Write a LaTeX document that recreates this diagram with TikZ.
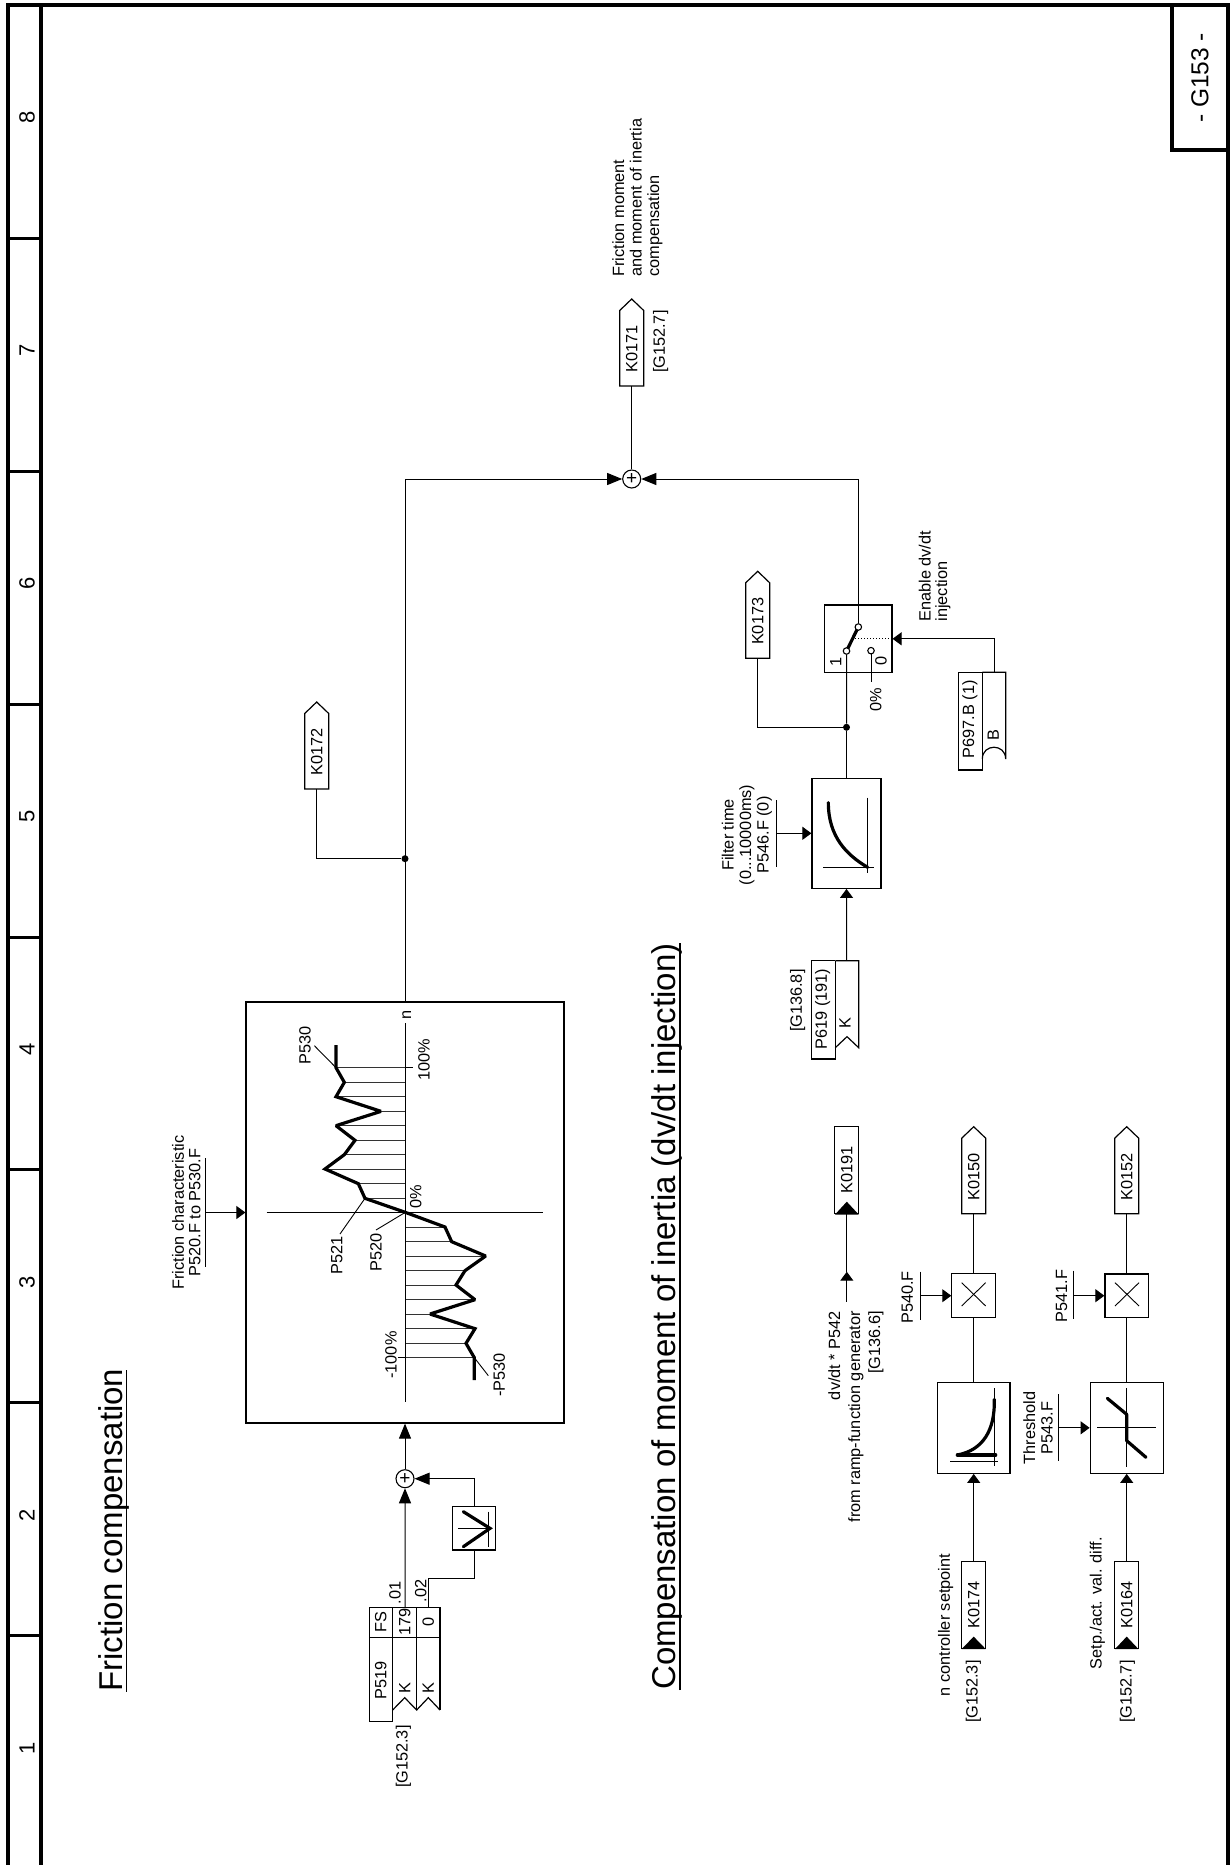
\documentclass[tikz,border=0pt]{standalone}
\usepackage{fontspec}
\setmainfont{Liberation Sans}
\usetikzlibrary{arrows.meta}
\tikzset{
  z/.style 2 args={shift={(#1,#2)},x=0.33333pt,y=-0.33333pt},
  lab/.style={rotate=90,inner sep=0pt,font=\fontsize{16.3}{17.5}\selectfont},
  bx/.style={draw,line width=1.2pt,inner sep=0pt,fill=white},
  conn/.style={line width=1pt},
  big/.style={conn,-{Triangle[length=15pt,width=12pt]}},
  sm/.style={conn,-{Triangle[length=9pt,width=13pt]}},
  tbl/.style={line width=1.2pt,line join=miter},
  thin/.style={line width=.9pt},
  thick3/.style={line width=3.2pt,line cap=round,line join=round},
  hatch/.style={line width=.9pt,black!80},
  frame/.style={line width=4.2pt},
  dotnode/.style={circle,fill=black,inner sep=0pt,minimum size=7pt},
  contact/.style={circle,draw,fill=white,line width=1.1pt,inner sep=0pt,minimum size=6.5pt},
  sumnode/.style={circle,draw,fill=white,line width=1.1pt,inner sep=0pt,minimum size=18pt,font=\fontsize{19}{19}\selectfont},
  ktag/.style={draw,line width=1.2pt,rotate=90,inner sep=0pt,minimum width=87pt,minimum height=24pt,font=\fontsize{16.3}{17.5}\selectfont},
}
\newcommand{\sigtag}[4]{%
  \draw[tbl] (#2-12,#3) -- (#2-12,#3-75.5) -- (#2,#3-87) -- (#2+12,#3-75.5) -- (#2+12,#3) -- cycle;
  \coordinate (#1) at (#2,#3);
  \node[lab] (#1t) at (#2,#3-37) {#4};}
\begin{document}
\begin{tikzpicture}[x=1pt,y=-1pt]
\useasboundingbox (0,0) rectangle (1231,1865);
% frame
\draw[frame] (8,1865) -- (8,5) -- (1228,5) -- (1228,1865);
\draw[frame] (41,1865) -- (41,5);
\draw[frame] (1172,5) -- (1172,150) -- (1228,150);
\foreach \yy in {238,471,704,937,1169,1402,1635} \draw[line width=3pt] (8,\yy) -- (41,\yy);
\foreach \yy/\nn in {1748/1,1515/2,1282/3,1049/4,816/5,583/6,350/7,117/8}
  \node[rotate=90,inner sep=0pt,font=\fontsize{22}{24}\selectfont] (col\nn) at (27,\yy) {\nn};
\node[rotate=90,inner sep=0pt,font=\fontsize{24.5}{26}\selectfont] (sheet) at (1200,78) {- G153 -};
% titles
\node[rotate=90,inner sep=0pt,anchor=base west,font=\fontsize{33}{34}\selectfont] (title1) at (122.7,1691.7) {Friction compensation};
\draw[line width=1.5pt] (126.7,1691.7) -- (126.7,1370);
\node[rotate=90,inner sep=0pt,anchor=base west,font=\fontsize{33}{34}\selectfont] (title2) at (675.7,1690) {Compensation of moment of inertia (dv/dt injection)};
\draw[line width=1.5pt] (680,1690) -- (680,943);

% friction box
\node[bx,minimum width=318pt,minimum height=421pt] (mainbox) at (405,1212.5) {};
\begin{scope}[z={230}{980}]
  \foreach \yy/\xx in {263/318,307/343,350/318,394/453,437/318,481/375,524/343,567/285,611/385,655/405,
                        741/645,785/665,828/767,872/705,915/678,959/735,1002/600,1046/735,1090/708,1133/733}
    \draw[hatch] (526,\yy) -- (\xx,\yy);
  \draw[thin] (526,1265) -- (526,130);
  \draw[thin] (110,697) -- (940,697);
  \draw[thin] (526,263) -- (548,263);
  \draw[thin] (526,1133) -- (505,1133);
  \draw[thick3,line cap=butt,line join=miter,miter limit=2] (318,195) -- (318,263) -- (343,307) -- (318,350) -- (453,394) -- (318,437) -- (375,481) -- (343,524) -- (285,567) -- (385,611) -- (405,655) -- (526,697) -- (645,741) -- (665,785) -- (767,828) -- (705,872) -- (678,915) -- (735,959) -- (600,1002) -- (735,1046) -- (708,1090) -- (733,1133) -- (733,1200);
  \draw[thin] (253,197) -- (318,263);
  \draw[thin] (330,762) -- (405,655);
  \draw[thin] (438,750) -- (526,697);
  \draw[thin] (775,1187) -- (733,1133);
  \node[lab] (lP530) at (225,195) {P530};
  \node[lab] (lP521) at (320,825) {P521};
  \node[lab] (lP520) at (438,818) {P520};
  \node[lab] (lzero) at (557,650) {0\%};
  \node[lab] (lhundred) at (582,240) {100\%};
  \node[lab] (lmhundred) at (483,1125) {-100\%};
  \node[lab] (lmP530) at (808,1185) {-P530};
  \node[lab] (ln) at (530,105) {n};
\end{scope}
% friction characteristic input
\node[lab,align=center,font=\fontsize{16.3}{16.5}\selectfont] (lchar) at (186.2,1212.5) {Friction characteristic\\P520.F to P530.F};
\draw[conn] (205.7,1158) -- (205.7,1266.7);
\coordinate (barchar) at (205.7,1212.5);
\draw[sm] (barchar) -- (mainbox.west);

% summing nodes
\node[sumnode] (sum2) at (405,1478.7) {+};
\node[sumnode] (sum1) at (631.7,479) {+};

% FS table
\begin{scope}[z={340}{1400}]
  \draw[tbl] (300,930) -- (300,622) -- (88,622) -- (88,965) -- (158,965) -- (158,622);
  \draw[tbl] (230,622) -- (230,930);
  \draw[tbl] (88,713) -- (300,713);
  \draw[tbl] (158,930) -- (194,893) -- (230,930) -- (265,893) -- (300,930);
  \coordinate (t1) at (195,622);
  \coordinate (t2) at (265,622);
  \node[lab] (lFS) at (122,667) {FS};
  \node[lab] (l179) at (194,667) {179};
  \node[lab] (l0a) at (265,667) {0};
  \node[lab] (lP519) at (122,840) {P519};
  \node[lab] (lKa) at (194,865) {K};
  \node[lab] (lKb) at (265,865) {K};
  \node[lab] (l01) at (165,578) {.01};
  \node[lab] (l02) at (242,572) {.02};
  \node[lab] (lG1523a) at (190,1070) {[G152.3]};
\end{scope}
% abs value block
\node[bx,minimum width=43.4pt,minimum height=43.3pt] (vbox) at (474,1528.3) {};
\begin{scope}[z={340}{1400}]
  \draw[thin] (355,385) -- (455,385);
  \draw[thin] (445,335) -- (445,440);
  \draw[thick3,line join=miter] (370,335) -- (450,385) -- (370,440);
\end{scope}
\coordinate (vc) at (474,1578);
\draw[conn] (t2) |- (vc) -- (vbox.south);
\draw[big] (vbox.north) |- (sum2.east);
\draw[big] (t1) -- (sum2.south);
\draw[big] (sum2.north) -- (mainbox.south);

% outgoing
\draw[big] (mainbox.north) |- (sum1.west);
\node[dotnode] (j1) at (405,858.7) {};
\sigtag{k172}{316.7}{789}{K0172}
\draw[conn] (k172) |- (j1);
\sigtag{k171}{631.7}{386}{K0171}
\draw[conn] (sum1.north) -- (k171);
\node[lab] (lG1527a) at (660.7,341.7) {[G152.7]};
\node[lab,anchor=west,align=left] (lfric) at (637.5,276.7) {Friction moment\\and moment of inertia\\compensation};

% dv/dt branch
\node[bx,minimum width=69pt,minimum height=110pt] (filt) at (846.5,833.3) {};
\node[bx,minimum width=67.3pt,minimum height=67.7pt] (sw) at (858.3,638.8) {};
\node[dotnode] (j2) at (846.5,727.3) {};
\draw[conn] (filt.north) -- (j2);
\begin{scope}[z={720}{560}]
  \draw[thin] (310,922) -- (462,922);
  \draw[thin] (443,713) -- (443,938);
  \draw[thick3] (325,728) .. controls (325,830) and (380,885) .. (443,922);
  % switch
  \draw[line width=1pt,dotted] (396,236) -- (516,236);
  \draw[thick3,line cap=butt] (379.5,273) -- (415,201);
  \node[contact] (c1) at (379.5,273) {};
  \node[contact] (c2) at (415,201) {};
  \node[contact] (c0) at (453,272) {};
  \coordinate (c0e) at (453,365);
  \draw[conn] (c0) -- (c0e);
  \node[lab] (l1) at (347,305) {1};
  \node[lab] (l0b) at (483,303) {0};
  \node[lab] (l0pc) at (467,420) {0\%};
  % P697 table
  \draw[tbl] (787,337) -- (716,337) -- (716,630) -- (787,630) -- (787,337);
  \draw[tbl] (787,337) -- (857,337) -- (857,597) .. controls (857,550) and (787,550) .. (787,597);
  \coordinate (t697) at (823,337);
  \node[lab] (lP697) at (750,478) {P697.B (1)};
  \node[lab] (lB) at (820,525) {B};
  % P619 table
  \draw[tbl] (346,1202) -- (275,1202) -- (275,1497) -- (346,1497) -- (346,1202);
  \draw[tbl] (346,1202) -- (416,1202) -- (416,1463) -- (381,1430) -- (346,1463);
  \coordinate (t619) at (380,1202);
  \node[lab] (lP619) at (308,1347) {P619 (191)};
  \node[lab] (lKc) at (375,1390) {K};
  \node[lab] (lG1368) at (233,1322) {[G136.8]};
\end{scope}
\draw[conn] (j2) -- (c1);
\draw[big] (c2) |- (sum1.east);
\draw[sm] (t619) -- (filt.south);
\draw[sm] (t697) |- (sw.east);
\sigtag{k173}{757.7}{658.3}{K0173}
\draw[conn] (k173) |- (j2);
\node[lab,align=left,anchor=west,font=\fontsize{16.3}{16.5}\selectfont] (lenable) at (934.7,621.7) {Enable dv/dt\\injection};
% filter time
\node[lab,align=center] (lfilter) at (747,835) {Filter time\\(0...10000ms)\\P546.F (0)};
\draw[conn] (776,800) -- (776,866.7);
\coordinate (barf) at (776,833.3);
\draw[sm] (barf) -- (filt.west);

% K0191
\node[ktag] (k191) at (846.8,1170.2) {K0191};
\fill (835,1214.5) -- (858.7,1214.5) -- (846.8,1201.7) -- cycle;
\coordinate (dvfree) at (846.8,1301.7);
\coordinate (dvmid) at (846.8,1271.7);
\draw[sm] (dvfree) -- (dvmid);
\draw[conn] (dvmid) -- (k191.west);
\node[lab,anchor=east,align=right] (ldv) at (856,1311) {dv/dt * P542\\[2.5pt]from ramp-function generator\\[2.5pt][G136.6]};

% row 1
\node[ktag] (k174) at (973.7,1604.7) {K0174};
\fill (961.7,1649) -- (985.7,1649) -- (973.7,1636.6) -- cycle;
\node[lab] (lnc) at (945.7,1625) {n controller setpoint};
\node[lab] (lG1523b) at (973.3,1691.7) {[G152.3]};
\node[bx,minimum width=72.6pt,minimum height=91pt] (box1) at (973.7,1427.8) {};
\node[bx,minimum width=43.7pt,minimum height=43.7pt] (x1) at (973.7,1295.7) {};
\sigtag{k150}{973.7}{1213.7}{K0150}
\draw[sm] (k174.east) -- (box1.south);
\draw[conn] (box1.north) -- (x1.south);
\draw[conn] (x1.north) -- (k150);
\begin{scope}[z={820}{1240}]
  \draw[thin] (390,665) -- (535,665);
  \draw[thin] (522,445) -- (522,677);
  \draw[thick3] (412,645) -- (527,645);
  \draw[thick3] (412,645) .. controls (490,630) and (525,570) .. (523,478);
  \draw[thin] (425,128) -- (497,198);
  \draw[thin] (425,198) -- (497,128);
\end{scope}
\draw[conn] (920,1271.7) -- (920,1320);
\coordinate (bar540) at (920,1295.7);
\draw[sm] (bar540) -- (x1.west);
\node[lab] (lP540) at (907.3,1297.3) {P540.F};

% row 2
\node[ktag] (k164) at (1126.7,1604.7) {K0164};
\fill (1115,1649) -- (1138.4,1649) -- (1126.7,1636.6) -- cycle;
\node[lab] (lsetp) at (1097.3,1603.3) {Setp./act. val. diff.};
\node[lab] (lG1527b) at (1127.3,1691.7) {[G152.7]};
\node[bx,minimum width=73pt,minimum height=91pt] (box2) at (1126.7,1427.8) {};
\node[bx,minimum width=43.5pt,minimum height=43.5pt] (x2) at (1126.7,1295.7) {};
\begin{scope}[z={820}{1240}]
  \draw[thin] (832,563) -- (1008,563);
  \draw[thin] (920,445) -- (920,680);
  \draw[thick3] (862,475) -- (920,523) -- (920,602) -- (978,652);
  \draw[thin] (885,128) -- (957,198);
  \draw[thin] (885,198) -- (957,128);
\end{scope}
\sigtag{k152}{1126.7}{1213.7}{K0152}
\draw[sm] (k164.east) -- (box2.south);
\draw[conn] (box2.north) -- (x2.south);
\draw[conn] (x2.north) -- (k152);
\draw[conn] (1073.3,1270.7) -- (1073.3,1319.3);
\coordinate (bar541) at (1073.3,1295.7);
\draw[sm] (bar541) -- (x2.west);
\node[lab] (lP541) at (1061.7,1296) {P541.F};
\draw[conn] (1058.7,1394.3) -- (1058.7,1461);
\coordinate (bar543) at (1058.7,1427.8);
\draw[sm] (bar543) -- (box2.west);
\node[lab,align=center] (lthr) at (1038,1427.8) {Threshold\\P543.F};
\end{tikzpicture}
\end{document}
